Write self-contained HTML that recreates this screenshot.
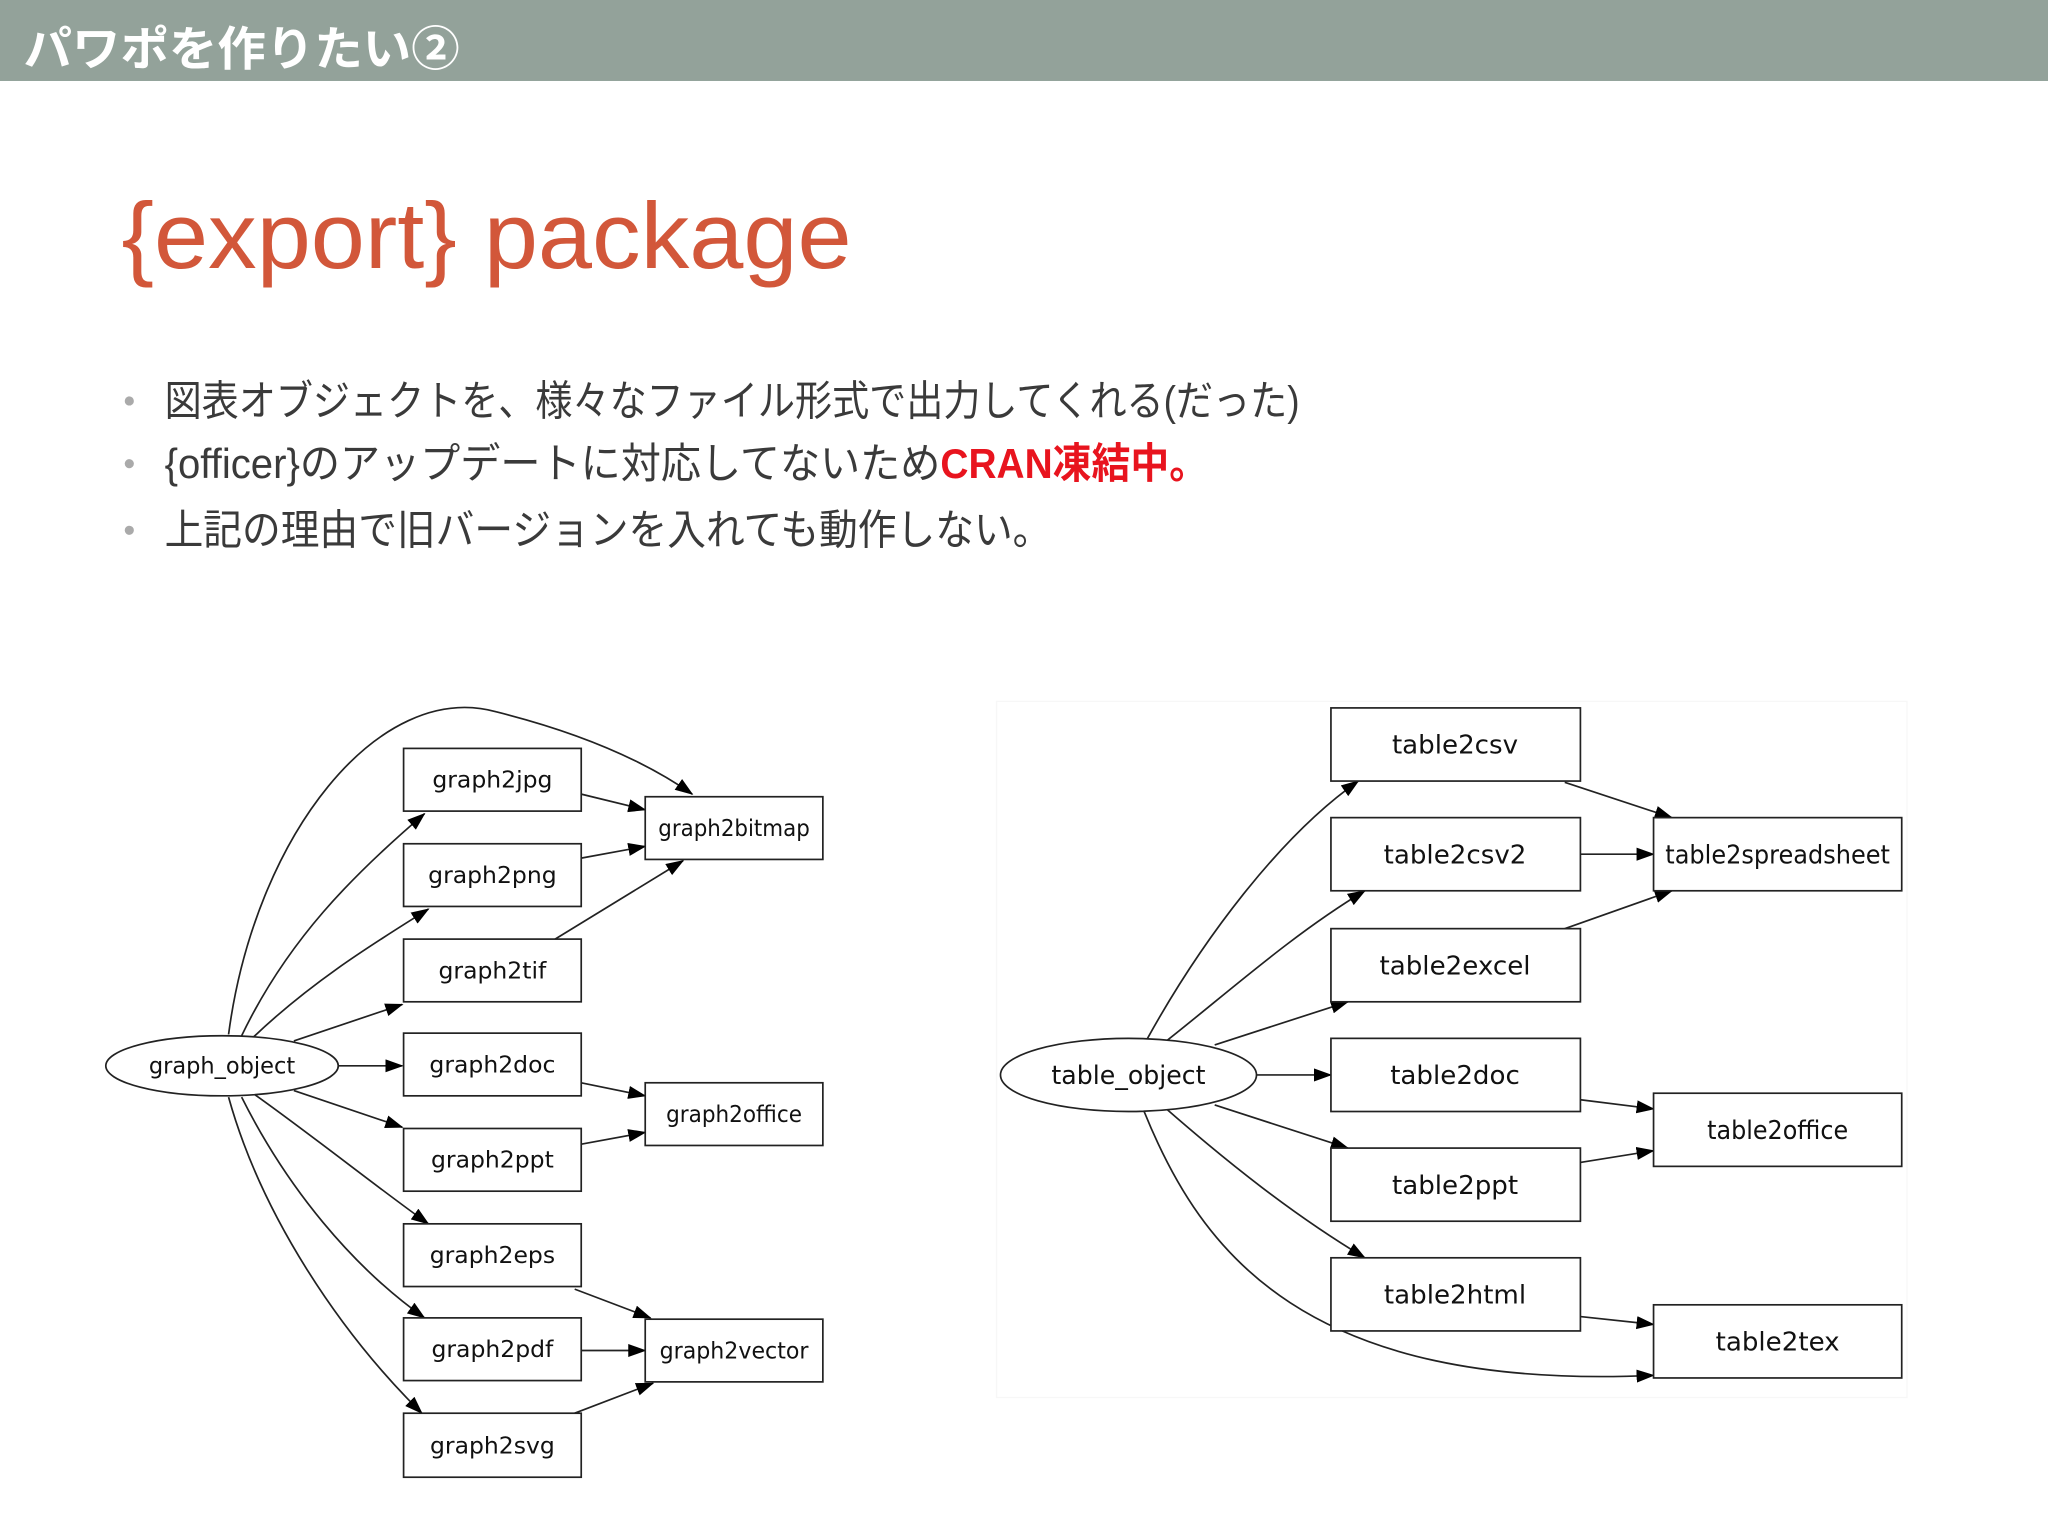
<!DOCTYPE html>
<html><head><meta charset="utf-8">
<style>
html,body{margin:0;padding:0;background:#fff;width:2048px;height:1536px;overflow:hidden}
svg{display:block}
.jp{font-family:"Liberation Sans","Noto Sans CJK JP",sans-serif}
.g{font-family:"DejaVu Sans","Liberation Sans",sans-serif;fill:#111}
</style></head><body>
<svg width="2048" height="1536" viewBox="0 0 1568 1176" xmlns="http://www.w3.org/2000/svg">
<defs>
<marker id="a" markerUnits="userSpaceOnUse" markerWidth="14" markerHeight="12" refX="13" refY="5" orient="auto">
<path d="M0,0 L14,5 L0,10 z" fill="#000"/>
</marker>
</defs>
<rect x="0" y="0" width="1568" height="62" fill="#93a29a"/>
<text x="18" y="50" class="jp" font-size="36" font-weight="bold" fill="#fff" textLength="334" lengthAdjust="spacingAndGlyphs">パワポを作りたい②</text>
<text x="93" y="205" class="jp" font-size="72" fill="#d2573a" textLength="559" lengthAdjust="spacingAndGlyphs">{export} package</text>
<g class="jp" font-size="32" fill="#3a3a3a">
<circle cx="99" cy="307" r="3.5" fill="#aaa"/>
<text x="126" y="318" textLength="869" lengthAdjust="spacingAndGlyphs">図表オブジェクトを、様々なファイル形式で出力してくれる(だった)</text>
<circle cx="99" cy="355" r="3.5" fill="#aaa"/>
<text x="126" y="366" textLength="594" lengthAdjust="spacingAndGlyphs">{officer}のアップデートに対応してないため</text>
<text x="720" y="366" fill="#e8141e" font-weight="bold" textLength="205" lengthAdjust="spacingAndGlyphs">CRAN凍結中。</text>
<circle cx="99" cy="406" r="3.5" fill="#aaa"/>
<text x="126" y="417" textLength="679" lengthAdjust="spacingAndGlyphs">上記の理由で旧バージョンを入れても動作しない。</text>
</g>

<!-- Left graph -->
<g fill="none" stroke="#222" stroke-width="1.3" marker-end="url(#a)">
<path d="M175,792 C195,640 290,520 380,545 C440,560 490,580 530,608"/>
<path d="M185,793 C220,720 270,670 325,623"/>
<path d="M193,795 C240,750 290,720 328,696"/>
<path d="M225,797 L308,769"/>
<path d="M259,816 L308,816"/>
<path d="M225,835 L308,863"/>
<path d="M195,838 C240,870 290,910 328,937"/>
<path d="M185,840 C220,910 270,970 325,1009"/>
<path d="M175,840 C200,930 260,1020 323,1082"/>
<path d="M445,608 L494,620"/>
<path d="M445,657 L494,648"/>
<path d="M425,719 L523,659"/>
<path d="M445,829 L494,839"/>
<path d="M445,876 L494,867"/>
<path d="M440,987 L498,1009"/>
<path d="M445,1034 L494,1034"/>
<path d="M440,1082 L500,1059"/>
</g>
<g fill="#fff" stroke="#222" stroke-width="1.3">
<ellipse cx="170" cy="816" rx="89" ry="23"/>
<rect x="309" y="573" width="136" height="48"/>
<rect x="309" y="646" width="136" height="48"/>
<rect x="309" y="719" width="136" height="48"/>
<rect x="309" y="791" width="136" height="48"/>
<rect x="309" y="864" width="136" height="48"/>
<rect x="309" y="937" width="136" height="48"/>
<rect x="309" y="1009" width="136" height="48"/>
<rect x="309" y="1082" width="136" height="49"/>
<rect x="494" y="610" width="136" height="48"/>
<rect x="494" y="829" width="136" height="48"/>
<rect x="494" y="1010" width="136" height="48"/>
</g>
<g class="g" font-size="18" text-anchor="middle">
<text x="170" y="822" textLength="112" lengthAdjust="spacingAndGlyphs">graph_object</text>
<text x="377" y="603">graph2jpg</text>
<text x="377" y="676">graph2png</text>
<text x="377" y="749">graph2tif</text>
<text x="377" y="821">graph2doc</text>
<text x="377" y="894">graph2ppt</text>
<text x="377" y="967">graph2eps</text>
<text x="377" y="1039">graph2pdf</text>
<text x="377" y="1113">graph2svg</text>
<text x="562" y="640" textLength="116" lengthAdjust="spacingAndGlyphs">graph2bitmap</text>
<text x="562" y="859" textLength="104" lengthAdjust="spacingAndGlyphs">graph2office</text>
<text x="562" y="1040" textLength="114" lengthAdjust="spacingAndGlyphs">graph2vector</text>
</g>

<!-- Right graph -->
<rect x="763" y="537" width="697" height="533" fill="none" stroke="#f7f7f7" stroke-width="1"/>
<g fill="none" stroke="#222" stroke-width="1.3" marker-end="url(#a)">
<path d="M878,796 C920,720 980,640 1040,598"/>
<path d="M893,797 C940,760 990,715 1045,682"/>
<path d="M930,800 L1032,767"/>
<path d="M962,823 L1019,823"/>
<path d="M930,846 L1032,879"/>
<path d="M893,849 C940,890 990,930 1045,963"/>
<path d="M876,851 C920,960 1000,1065 1266,1053"/>
<path d="M1198,599 L1280,626"/>
<path d="M1210,654 L1266,654"/>
<path d="M1198,711 L1280,682"/>
<path d="M1210,842 L1266,849"/>
<path d="M1210,890 L1266,881"/>
<path d="M1210,1008 L1266,1014"/>
</g>
<g fill="#fff" stroke="#222" stroke-width="1.3">
<ellipse cx="864" cy="823" rx="98" ry="28"/>
<rect x="1019" y="542" width="191" height="56"/>
<rect x="1019" y="626" width="191" height="56"/>
<rect x="1019" y="711" width="191" height="56"/>
<rect x="1019" y="795" width="191" height="56"/>
<rect x="1019" y="879" width="191" height="56"/>
<rect x="1019" y="963" width="191" height="56"/>
<rect x="1266" y="626" width="190" height="56"/>
<rect x="1266" y="837" width="190" height="56"/>
<rect x="1266" y="999" width="190" height="56"/>
</g>
<g class="g" font-size="20" text-anchor="middle">
<text x="864" y="830" textLength="118" lengthAdjust="spacingAndGlyphs">table_object</text>
<text x="1114" y="577">table2csv</text>
<text x="1114" y="661">table2csv2</text>
<text x="1114" y="746">table2excel</text>
<text x="1114" y="830">table2doc</text>
<text x="1114" y="914">table2ppt</text>
<text x="1114" y="998">table2html</text>
<text x="1361" y="661" textLength="172" lengthAdjust="spacingAndGlyphs">table2spreadsheet</text>
<text x="1361" y="872" textLength="108" lengthAdjust="spacingAndGlyphs">table2office</text>
<text x="1361" y="1034">table2tex</text>
</g>
</svg>
</body></html>
